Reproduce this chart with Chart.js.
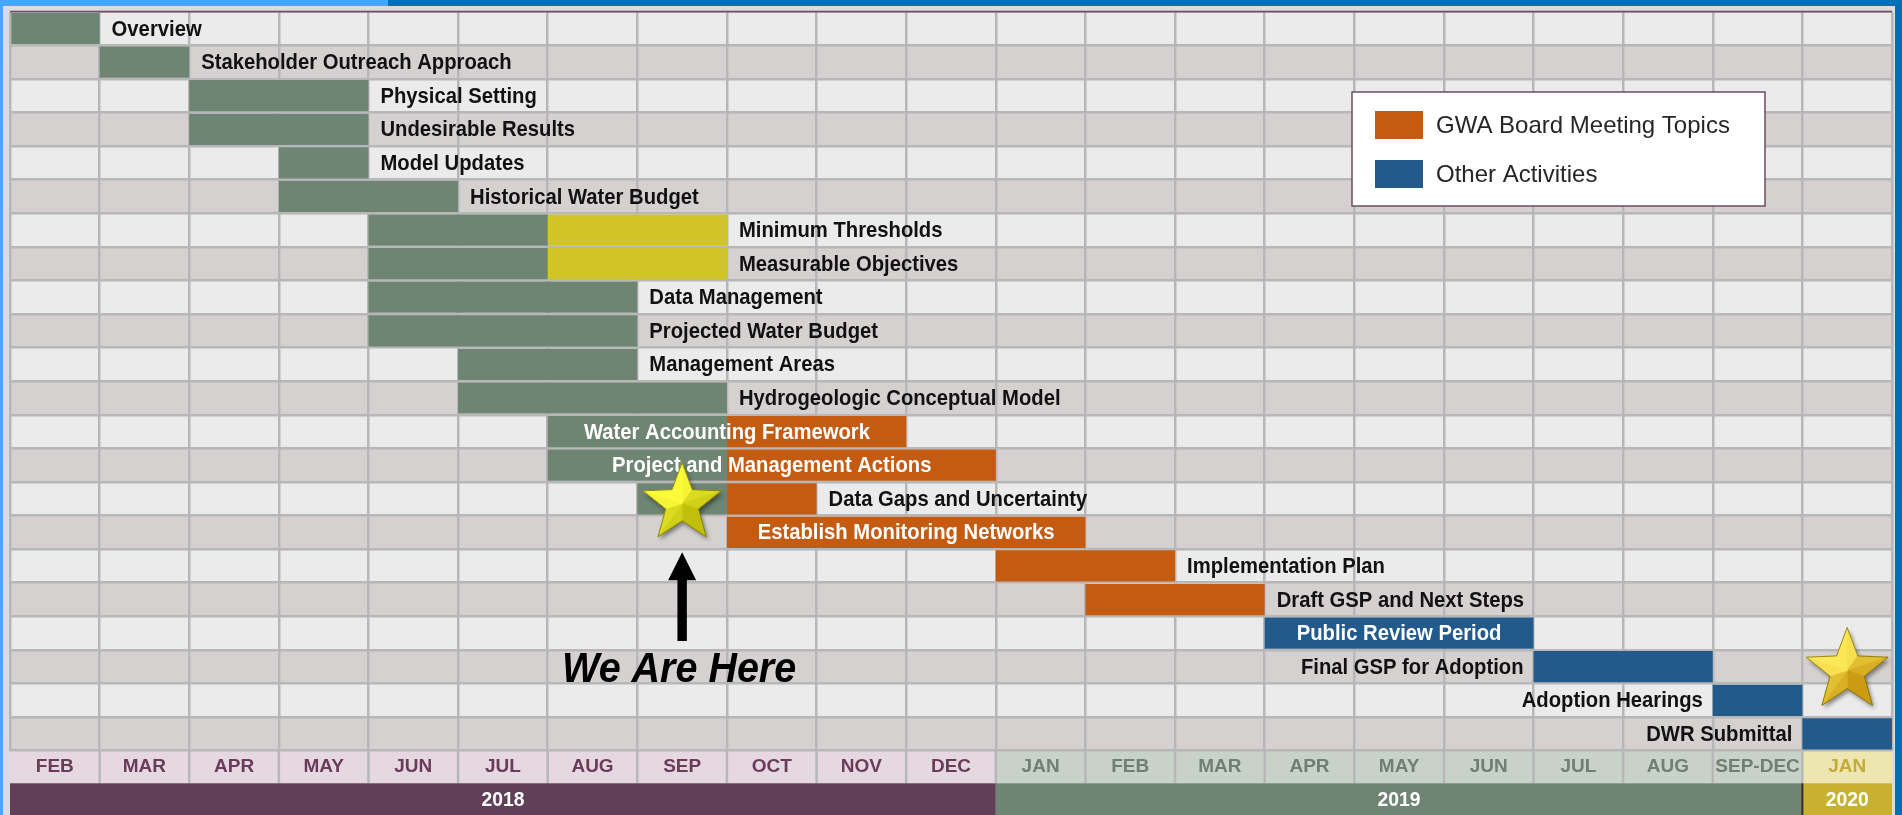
<!DOCTYPE html>
<html>
<head>
<meta charset="utf-8">
<script src="https://cdn.jsdelivr.net/npm/chart.js@4.4.1/dist/chart.umd.min.js"></script>
<style>
html,body{margin:0;padding:0;width:1902px;height:815px;overflow:hidden;background:#dcdcdc;}
#ftop{position:absolute;left:0;top:0;width:1902px;height:6px;background:linear-gradient(to right,#47a6ff 0,#47a6ff 388px,#0070b4 388px);}
#fleft{position:absolute;left:0;top:0;width:3px;height:815px;background:#47a6ff;}
#fright{position:absolute;left:1895px;top:0;width:7px;height:815px;background:#0070b4;}
#wrap{position:absolute;left:0;top:0;width:1902px;height:815px;}
canvas{display:block;}
</style>
</head>
<body>
<div id="ftop"></div><div id="fleft"></div><div id="fright"></div>
<div id="wrap"><canvas id="c" width="1902" height="815"></canvas></div>
<script>
// ---------- DATA ----------
const tasks = [
  'Overview','Stakeholder Outreach Approach','Physical Setting','Undesirable Results',
  'Model Updates','Historical Water Budget','Minimum Thresholds','Measurable Objectives',
  'Data Management','Projected Water Budget','Management Areas','Hydrogeologic Conceptual Model',
  'Water Accounting Framework','Project and Management Actions','Data Gaps and Uncertainty',
  'Establish Monitoring Networks','Implementation Plan','Draft GSP and Next Steps',
  'Public Review Period','Final GSP for Adoption','Adoption Hearings','DWR Submittal'
];
// month columns: 0 = FEB 2018 ... 20 = JAN 2020
const months = ['FEB','MAR','APR','MAY','JUN','JUL','AUG','SEP','OCT','NOV','DEC',
                'JAN','FEB','MAR','APR','MAY','JUN','JUL','AUG','SEP-DEC','JAN'];
const years = ['2018','2019','2020'];
const yearFirstCol = [0, 11, 20];
const yearLastCol = [11, 20, 21];

// spans [startColumn, endColumn] per task (null = none)
const earlierTopics = [[0,1],[1,2],[2,4],[2,4],[3,4],[3,5],[4,6],[4,6],[4,7],[4,7],[5,7],[5,8],
                       [6,8],[6,8],[7,8],null,null,null,null,null,null,null];
const thresholdTopics = [null,null,null,null,null,null,[6,8],[6,8],null,null,null,null,
                         null,null,null,null,null,null,null,null,null,null];
const gwaBoardTopics = [null,null,null,null,null,null,null,null,null,null,null,null,
                        [8,10],[8,11],[8,9],[8,12],[11,13],[12,14],null,null,null,null];
const otherActivities = [null,null,null,null,null,null,null,null,null,null,null,null,
                         null,null,null,null,null,null,[14,17],[17,19],[19,20],[20,21]];
// where each task's name is written relative to its bar
const labelPlacement = ['right','right','right','right','right','right','right','right',
                        'right','right','right','right','inside','inside','right','inside',
                        'right','right','inside','left','left','left'];
// milestone markers: [column centre, row boundary index, kind]
const milestones = [[7.5, 15, 'now'], [20.5, 20, 'final']];
const hereText = 'We Are Here';
const legendNames = ['GWA Board Meeting Topics', 'Other Activities'];

// ---------- STYLE ----------
const FONT = '"Liberation Sans", Arial, sans-serif';
const C_GREEN = '#6e8573', C_YELLOW = '#d0c426', C_ORANGE = '#c55a11', C_BLUE = '#235a8c';
const monthBg = ['#e6d8e1', '#c8d2c8', '#eee6b0'];
const monthFg = ['#6a3c5a', '#6f7f72', '#c2ab38'];
const yearBg = ['#623f58', '#6e8573', '#c8b12e'];
const yearOf = i => (i < 11 ? 0 : (i < 20 ? 1 : 2));

function condText(ctx, text, x, y, align, sx) {
  ctx.save();
  ctx.translate(x, y);
  ctx.scale(sx, 1);
  ctx.textAlign = align;
  ctx.textBaseline = 'middle';
  ctx.fillText(text, 0, 0);
  ctx.restore();
}

function mix(c1, c2, t) {
  return 'rgb(' + c1.map((v, i) => Math.round(v + (c2[i] - v) * t)).join(',') + ')';
}

function drawStar(ctx, cx, cy, R, bright, dark) {
  const r = R * 0.42;
  const pts = [];
  for (let i = 0; i < 10; i++) {
    const a = -Math.PI / 2 + i * Math.PI / 5;
    const rad = i % 2 ? r : R;
    pts.push([cx + rad * Math.cos(a), cy + rad * Math.sin(a)]);
  }
  ctx.save();
  ctx.shadowColor = 'rgba(0,0,0,0.45)';
  ctx.shadowBlur = 4;
  ctx.shadowOffsetX = 2;
  ctx.shadowOffsetY = 3;
  ctx.beginPath();
  pts.forEach((p, i) => (i ? ctx.lineTo(p[0], p[1]) : ctx.moveTo(p[0], p[1])));
  ctx.closePath();
  ctx.fillStyle = mix(bright, dark, 0.5);
  ctx.fill();
  ctx.restore();
  const lightAng = -Math.PI * 0.7;
  for (let i = 0; i < 10; i++) {
    const p1 = pts[i], p2 = pts[(i + 1) % 10];
    const gx = (p1[0] + p2[0] + cx) / 3 - cx, gy = (p1[1] + p2[1] + cy) / 3 - cy;
    const ang = Math.atan2(gy, gx);
    const t = 0.5 - 0.5 * Math.cos(ang - lightAng);
    ctx.beginPath();
    ctx.moveTo(cx, cy); ctx.lineTo(p1[0], p1[1]); ctx.lineTo(p2[0], p2[1]); ctx.closePath();
    ctx.fillStyle = mix(bright, dark, t * 0.8);
    ctx.fill();
    ctx.strokeStyle = mix(bright, dark, t * 0.8);
    ctx.lineWidth = 0.6;
    ctx.stroke();
  }
  ctx.beginPath();
  pts.forEach((p, i) => (i ? ctx.lineTo(p[0], p[1]) : ctx.moveTo(p[0], p[1])));
  ctx.closePath();
  ctx.strokeStyle = 'rgba(110,100,0,0.7)';
  ctx.lineWidth = 1;
  ctx.stroke();
}

const ganttPlugin = {
  id: 'gantt',
  beforeDraw(chart) {
    const ctx = chart.ctx, a = chart.chartArea;
    const x = chart.scales.x, y = chart.scales.y, m = chart.scales.m;
    const half = (y.getPixelForValue(1) - y.getPixelForValue(0)) / 2;
    ctx.save();
    tasks.forEach((t, i) => {
      const cy = y.getPixelForValue(i);
      ctx.fillStyle = i % 2 ? '#d5d1d1' : '#ebebeb';
      ctx.fillRect(a.left, cy - half, a.right - a.left, 2 * half);
    });
    // month header cells
    months.forEach((mo, i) => {
      const x0 = x.getPixelForValue(i), x1 = x.getPixelForValue(i + 1);
      ctx.fillStyle = monthBg[yearOf(i)];
      ctx.fillRect(x0, m.top, x1 - x0, m.bottom - m.top);
    });
    ctx.strokeStyle = '#b7b7b7';
    ctx.lineWidth = 2.5;
    for (let i = 1; i < months.length; i++) {
      const px = x.getPixelForValue(i);
      ctx.beginPath(); ctx.moveTo(px, m.top); ctx.lineTo(px, m.bottom); ctx.stroke();
    }
    // year row
    years.forEach((yr, k) => {
      const x0 = x.getPixelForValue(yearFirstCol[k]), x1 = x.getPixelForValue(yearLastCol[k]);
      ctx.fillStyle = yearBg[k];
      ctx.fillRect(x0, m.bottom, x1 - x0, chart.height - m.bottom);
      ctx.fillStyle = '#ffffff';
      ctx.font = 'bold 21px ' + FONT;
      condText(ctx, yr, (x0 + x1) / 2, (m.bottom + chart.height) / 2 + 1, 'center', 0.92);
    });
    ctx.fillStyle = '#3d2a38';
    ctx.fillRect(x.getPixelForValue(20) - 1, m.bottom, 2, chart.height - m.bottom);
    ctx.restore();
  },
  afterDatasetsDraw(chart) {
    const ctx = chart.ctx, a = chart.chartArea;
    const x = chart.scales.x, y = chart.scales.y;
    ctx.save();
    ctx.strokeStyle = '#6f5068';
    ctx.lineWidth = 1.5;
    ctx.beginPath(); ctx.moveTo(a.left, a.top); ctx.lineTo(a.right, a.top); ctx.stroke();
    ctx.font = 'bold 22px ' + FONT;
    tasks.forEach((name, i) => {
      let s = Infinity, e = -Infinity;
      chart.data.datasets.forEach(ds => {
        const v = ds.data[i];
        if (v) { s = Math.min(s, v[0]); e = Math.max(e, v[1]); }
      });
      const cy = y.getPixelForValue(i) + 1;
      const mode = labelPlacement[i];
      if (mode === 'right') {
        ctx.fillStyle = '#111111';
        condText(ctx, name, x.getPixelForValue(e) + 12, cy, 'left', 0.92);
      } else if (mode === 'left') {
        ctx.fillStyle = '#111111';
        condText(ctx, name, x.getPixelForValue(s) - 10, cy, 'right', 0.92);
      } else {
        ctx.fillStyle = '#ffffff';
        condText(ctx, name, (x.getPixelForValue(s) + x.getPixelForValue(e)) / 2, cy, 'center', 0.92);
      }
    });
    ctx.restore();
  },
  afterDraw(chart) {
    const ctx = chart.ctx;
    const x = chart.scales.x, y = chart.scales.y;
    const half = (y.getPixelForValue(1) - y.getPixelForValue(0)) / 2;
    const boundary = k => y.getPixelForValue(k) - half;
    ctx.save();
    milestones.forEach(([col, row, kind]) => {
      const cx = x.getPixelForValue(col);
      if (kind === 'now') {
        const cy = boundary(row) - 12;
        drawStar(ctx, cx, cy, 41, [255, 255, 60], [175, 175, 0]);
        const tip = boundary(16) + 3, bot = boundary(19) - 9;
        ctx.fillStyle = '#000000';
        ctx.beginPath();
        ctx.moveTo(cx, tip);
        ctx.lineTo(cx + 14, tip + 28);
        ctx.lineTo(cx + 4.7, tip + 28);
        ctx.lineTo(cx + 4.7, bot);
        ctx.lineTo(cx - 4.7, bot);
        ctx.lineTo(cx - 4.7, tip + 28);
        ctx.lineTo(cx - 14, tip + 28);
        ctx.closePath();
        ctx.fill();
        ctx.font = 'italic bold 42px ' + FONT;
        condText(ctx, hereText, cx - 3, boundary(20) - 13, 'center', 0.94);
      } else {
        const cy = boundary(row) - 13;
        drawStar(ctx, cx, cy, 43, [255, 236, 90], [190, 135, 0]);
      }
    });
    // legend box
    const lx = 1352, ly = 92, lw = 413, lh = 114;
    ctx.fillStyle = '#ffffff';
    ctx.fillRect(lx, ly, lw, lh);
    ctx.strokeStyle = '#6b4c60';
    ctx.lineWidth = 1.5;
    ctx.strokeRect(lx, ly, lw, lh);
    const legendColors = [C_ORANGE, C_BLUE];
    legendNames.forEach((n, k) => {
      const sy = ly + 19 + k * 49;
      ctx.fillStyle = legendColors[k];
      ctx.fillRect(lx + 23, sy, 48, 28);
      ctx.fillStyle = '#262626';
      ctx.font = '24px ' + FONT;
      condText(ctx, n, lx + 84, sy + 15, 'left', 1.0);
    });
    ctx.restore();
  }
};

const spanDataset = (label, data, color) => ({
  label, data, backgroundColor: color, borderWidth: 0, borderSkipped: false,
  grouped: false, barPercentage: 0.93, categoryPercentage: 1.0, xAxisID: 'x', yAxisID: 'y'
});

new Chart(document.getElementById('c'), {
  type: 'bar',
  data: {
    labels: tasks,
    datasets: [
      spanDataset('Earlier Topics', earlierTopics, C_GREEN),
      spanDataset('Threshold Topics', thresholdTopics, C_YELLOW),
      spanDataset('GWA Board Meeting Topics', gwaBoardTopics, C_ORANGE),
      spanDataset('Other Activities', otherActivities, C_BLUE)
    ]
  },
  options: {
    indexAxis: 'y',
    responsive: false,
    animation: false,
    devicePixelRatio: 1,
    layout: { padding: { left: 10, right: 10, top: 11.7, bottom: 31.7 } },
    plugins: { legend: { display: false }, tooltip: { enabled: false } },
    scales: {
      x: {
        type: 'linear', position: 'bottom', min: 0, max: months.length,
        ticks: { display: false, stepSize: 1 },
        grid: { color: '#b7b7b7', lineWidth: 2.5, drawTicks: false },
        border: { display: false },
        afterFit: s => { s.height = 0; }
      },
      m: {
        type: 'category', position: 'bottom', labels: months, offset: true,
        grid: { display: false, drawTicks: false },
        border: { display: false },
        ticks: {
          autoSkip: false, maxRotation: 0, padding: 5,
          font: { family: FONT, size: 19, weight: 'bold' },
          color: c => monthFg[yearOf(c.index)]
        },
        afterFit: s => { s.height = 32.6; }
      },
      y: {
        type: 'category', position: 'left', offset: true,
        ticks: { display: false },
        grid: { color: '#b7b7b7', lineWidth: 2.5, drawTicks: false, offset: true },
        border: { display: false },
        afterFit: s => { s.width = 0; }
      }
    }
  },
  plugins: [ganttPlugin]
});
</script>
</body>
</html>
